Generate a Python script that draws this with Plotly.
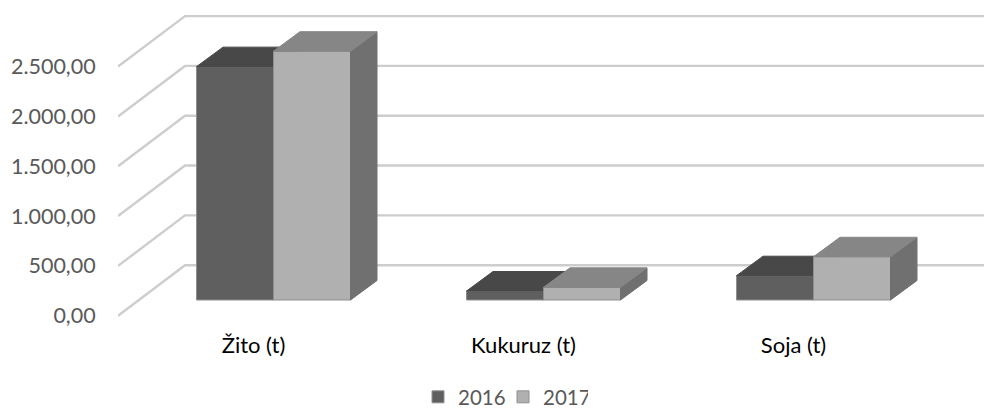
import plotly.graph_objects as go

categories = ["Žito (t)", "Kukuruz (t)", "Soja (t)"]
years = ["2016", "2017"]
values_2016 = [2342, 90, 244]
values_2017 = [2497, 127, 434]
y_ticks = [0, 500, 1000, 1500, 2000, 2500]
y_labels = ["0,00", "500,00", "1.000,00", "1.500,00", "2.000,00", "2.500,00"]

W, H = 984, 410
ML, MB = 118, 85
CAT_PX = 270.0
X0_PX = 273.5
Y0_PX = 315.7
K = (315.7 - 66.6) / 2500.0
x_range = [(ML - X0_PX) / CAT_PX, (W - X0_PX) / CAT_PX]
y_range = [-(H - MB - Y0_PX) / K, Y0_PX / K]

FLOOR = (Y0_PX - 300) / K
BAR_W = 77 / CAT_PX
DX, DY = 26.5 / CAT_PX, 19.5 / K
WALL_DX, WALL_DY = 67 / CAT_PX, 50.5 / K
WALL_X = x_range[0]
LABEL_SHIFT = -20 / CAT_PX

positions = list(range(len(categories)))
fig = go.Figure()

grid_x, grid_y = [], []
for t in y_ticks:
    grid_x += [WALL_X, WALL_X + WALL_DX, x_range[1], None]
    grid_y += [t, t + WALL_DY, t + WALL_DY, None]
fig.add_trace(go.Scatter(x=grid_x, y=grid_y, mode="lines", showlegend=False, hoverinfo="skip",
                         line=dict(color="#cdcdcd", width=2.4), xaxis="x", yaxis="y"))


def top_poly(left, v):
    top = FLOOR + v
    return ([left, left + BAR_W, left + BAR_W + DX, left + DX, left],
            [top, top, top + DY, top + DY, top])


def side_poly(left, v):
    r = left + BAR_W
    top = FLOOR + v
    return ([r, r + DX, r + DX, r, r], [FLOOR, FLOOR + DY, top + DY, top, FLOOR])


def add_series(vals, name, front, roof, side, offset, xa, ya):
    for p, v in zip(positions, vals):
        left = p + offset
        sx, sy = side_poly(left, v)
        fig.add_trace(go.Scatter(x=sx, y=sy, mode="lines", fill="toself", fillcolor=side,
                                 line=dict(color=side, width=1), showlegend=False,
                                 hoverinfo="skip", xaxis=xa, yaxis=ya))
        tx, ty = top_poly(left, v)
        fig.add_trace(go.Scatter(x=tx, y=ty, mode="lines", fill="toself", fillcolor=roof,
                                 line=dict(color=roof, width=1), showlegend=False,
                                 hoverinfo="skip", xaxis=xa, yaxis=ya))
    fig.add_trace(go.Bar(x=positions, y=vals, base=FLOOR, name=name, width=BAR_W, offset=offset,
                         marker=dict(color=front, line=dict(color="#8f8f8f", width=1)),
                         xaxis=xa, yaxis=ya))


add_series(values_2016, years[0], "#5f5f5f", "#484848", "#5a5a5a", -BAR_W, "x2", "y2")
add_series(values_2017, years[1], "#b0b0b0", "#868686", "#707070", 0, "x3", "y3")

overlay = dict(visible=False, showgrid=False, zeroline=False)
fig.update_layout(
    width=W, height=H, margin=dict(l=ML, r=0, t=0, b=MB, autoexpand=False),
    paper_bgcolor="white", plot_bgcolor="white", barmode="overlay",
    font=dict(family="Lato", size=21, color="#595959"),
    showlegend=True,
    legend=dict(orientation="h", x=(418 - ML) / (W - ML), xanchor="left",
                y=(H - MB - 397) / (H - MB), yanchor="middle",
                itemwidth=30, entrywidth=40, entrywidthmode="pixels",
                font=dict(size=20.5, color="#595959"), traceorder="normal"),
    xaxis=dict(range=x_range, showgrid=False, zeroline=False, showline=False,
               tickmode="array", automargin=False,
               tickvals=[p + LABEL_SHIFT for p in positions], ticktext=categories,
               tickfont=dict(color="#000000", size=22), ticks="outside", ticklen=1,
               tickcolor="rgba(0,0,0,0)"),
    yaxis=dict(range=y_range, showgrid=False, zeroline=False, showline=False,
               tickmode="array", tickvals=y_ticks, ticktext=y_labels, automargin=False,
               tickfont=dict(color="#595959", size=21.5), ticks="outside", ticklen=17,
               tickcolor="rgba(0,0,0,0)"),
    xaxis2=dict(range=x_range, overlaying="x", **overlay),
    yaxis2=dict(range=y_range, overlaying="y", **overlay),
    xaxis3=dict(range=x_range, overlaying="x", **overlay),
    yaxis3=dict(range=y_range, overlaying="y", **overlay),
)
fig.write_html("out.html", config={"displayModeBar": False},
               post_script="document.body.style.margin='0';document.body.style.overflow='hidden';")
